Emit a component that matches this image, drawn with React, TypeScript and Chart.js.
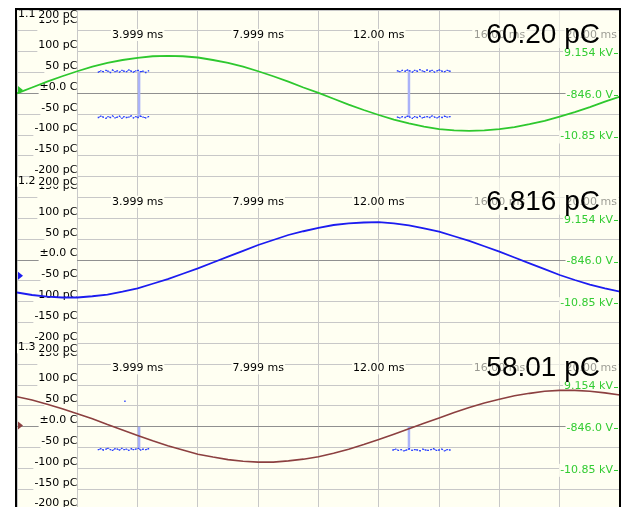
import React, { useEffect, useRef } from "react";
import { Chart, registerables } from "chart.js";

Chart.register(...registerables);

// ---- data ----
const timeMs = [0, 0.5, 1, 1.5, 2, 2.5, 3, 3.5, 4, 4.5, 5, 5.5, 6, 6.5, 7, 7.5, 8, 8.5, 9, 9.5, 10,
  10.5, 11, 11.5, 12, 12.5, 13, 13.5, 14, 14.5, 15, 15.5, 16, 16.5, 17, 17.5, 18, 18.5, 19, 19.5, 20];

const trace1pC = [0, 14, 28, 41, 53, 64, 73, 80, 85, 89, 90, 89, 86, 80, 73, 64, 53, 41, 28, 14, 1,
  -13, -27, -40, -52, -63, -72, -80, -86, -89, -90, -89, -86, -81, -74, -66, -56, -45, -33, -20, -8];
const trace2pC = [-78, -84, -88, -90, -90, -87, -83, -76, -68, -57, -46, -33, -20, -6, 8, 22, 36, 48, 60, 69, 77,
  84, 88, 90, 91, 88, 83, 76, 68, 57, 46, 33, 20, 6, -8, -22, -36, -48, -59, -68, -76];
const trace3pC = [72, 64, 54, 43, 31, 19, 5, -8, -21, -34, -46, -56, -66, -73, -79, -83, -85, -85, -82, -78, -72,
  -64, -54, -43, -31, -18, -5, 8, 21, 34, 46, 57, 66, 74, 80, 85, 87, 87, 85, 81, 76];

const panelIds = ["1.1", "1.2", "1.3"];
const readouts = ["60.20 pC", "6.816 pC", "58.01 pC"];
const markerLevels = [8, -38, 3];

const yTickValues = [200, 150, 100, 50, 0, -50, -100, -150, -200];
const yTickLabels = ["200 pC", "150 pC", "100 pC", "50 pC", "±0.0 C", "-50 pC", "-100 pC", "-150 pC", "-200 pC"];
const timeTickValues = [4, 8, 12, 16, 20];
const timeTickLabels = ["3.999 ms", "7.999 ms", "12.00 ms", "16.00 ms", "20.00 ms"];
const voltTickValues = [100, 0, -100];
const voltTickLabels = ["9.154 kV", "-846.0 V", "-10.85 kV"];

// noise bursts (panel 1.1)
const burstA_t = [2.70, 2.78, 2.86, 2.95, 3.02, 3.10, 3.17, 3.25, 3.33, 3.40, 3.48, 3.55, 3.63, 3.71, 3.79, 3.86, 3.94, 4.02, 4.10, 4.18, 4.27, 4.36];
const burstA_up = [51, 54, 52, 55, 53, 50, 56, 52, 54, 51, 55, 53, 52, 56, 53, 51, 54, 55, 52, 53, 50, 54];
const burstA_low = [-58, -55, -57, -60, -56, -58, -54, -59, -57, -55, -60, -56, -58, -57, -54, -59, -56, -58, -55, -57, -59, -56];
const burstB_t = [12.62, 12.70, 12.78, 12.87, 12.95, 13.03, 13.11, 13.19, 13.28, 13.36, 13.44, 13.52, 13.60, 13.69, 13.77, 13.85, 13.93, 14.01, 14.10, 14.18, 14.27, 14.36];
const burstB_up = [54, 52, 55, 53, 56, 54, 51, 55, 53, 57, 54, 52, 56, 53, 55, 51, 54, 56, 53, 52, 55, 53];
const burstB_low = [-57, -59, -56, -58, -55, -57, -60, -56, -58, -55, -59, -57, -56, -58, -54, -57, -59, -56, -58, -55, -57, -56];
const spike1_t = [4.05, 13.0];
const spike1_top = [53, 54];
const spike1_bottom = [-57, -57];

// noise bursts (panel 1.3)
const burstC_low = [-55, -53, -56, -54, -52, -55, -57, -53, -54, -56, -52, -55, -54, -57, -53, -55, -54, -52, -56, -54, -55, -53];
const burstD_t = [12.47, 12.56, 12.65, 12.74, 12.83, 12.92, 13.01, 13.10, 13.19, 13.28, 13.37, 13.46, 13.55, 13.64, 13.73, 13.82, 13.91, 14.00, 14.09, 14.18, 14.27, 14.36];
const burstD_low = [-56, -54, -57, -55, -58, -56, -53, -57, -55, -56, -58, -54, -56, -57, -55, -53, -57, -56, -54, -58, -55, -56];
const stray_t = [3.58];
const stray_v = [61];
const spike3_t = [4.05, 13.0];
const spike3_top = [0, 0];
const spike3_bottom = [-54, -56];

// ---- styles ----
const CREAM = "#fffff2";
const GRID = "#c8c8c8";
const ZERO = "#909090";
const GREEN = "#2ec82e";
const BLUE = "#1c1cf0";
const BROWN = "#8c4040";
const NOISE = "#2a40ff";
const SPIKE = "#aab2f8";
const VOLT = "#33cc33";
const SMALL_FONT = "11px 'DejaVu Sans', sans-serif";
const BIG_FONT = "28px 'Liberation Sans', Arial, sans-serif";
const traceColors = [GREEN, BLUE, BROWN];
const scaleIds = ["y1", "y2", "y3"];

const pts = (ts: number[], vs: number[]) => ts.map((t, i) => ({ x: t, y: vs[i] }));

const noiseDs = (ts: number[], vs: number[], axis: string) => ({
  data: pts(ts, vs),
  yAxisID: axis,
  borderColor: NOISE,
  backgroundColor: NOISE,
  borderWidth: 1,
  borderDash: [2, 2],
  pointRadius: 1,
  pointStyle: "rect",
  pointBorderWidth: 0,
  tension: 0,
});

const spikeDs = (t: number, a: number, b: number, axis: string) => ({
  data: [{ x: t, y: a }, { x: t, y: b }],
  yAxisID: axis,
  borderColor: SPIKE,
  borderWidth: 2.5,
  pointRadius: 0,
});

const decorPlugin = {
  id: "scopeDecor",
  beforeDraw(chart: any) {
    const { ctx, chartArea: a } = chart;
    ctx.save();
    ctx.fillStyle = CREAM;
    ctx.fillRect(a.left, a.top, a.right - a.left, a.bottom - a.top);
    ctx.restore();
  },
  beforeDatasetsDraw(chart: any) {
    const ctx = chart.ctx;
    const xs = chart.scales.x;
    ctx.save();
    scaleIds.forEach((id, p) => {
      const s = chart.scales[id];
      ctx.font = SMALL_FONT;
      ctx.textBaseline = "middle";
      // left value labels (all but the top one)
      ctx.textAlign = "right";
      yTickValues.forEach((v, i) => {
        if (v === 200) return;
        const py = s.getPixelForValue(v);
        const cy = v === 150 ? py - 11 : py - 6.5;
        const w = ctx.measureText(yTickLabels[i]).width;
        const left = 77.5 - w;
        ctx.fillStyle = CREAM;
        ctx.fillRect(left - 1, cy - 6, 77 - (left - 1), py + 1 - (cy - 6));
        ctx.fillStyle = "#000";
        ctx.fillText(yTickLabels[i], 77.5, cy);
      });
      // top label with panel id
      {
        const i = yTickValues.indexOf(200);
        const cy = s.top + 5.5;
        ctx.fillStyle = CREAM;
        ctx.fillRect(17, cy - 5, 60, 9.5);
        ctx.fillStyle = "#000";
        ctx.fillText(yTickLabels[i], 77.5, cy);
        ctx.textAlign = "left";
        ctx.fillText(panelIds[p], 18, cy - 1.5);
      }
      // right-hand voltage labels
      ctx.textAlign = "right";
      voltTickValues.forEach((v, i) => {
        const py = s.getPixelForValue(v);
        const cy = py + 1.5;
        const w = ctx.measureText(voltTickLabels[i]).width;
        ctx.fillStyle = CREAM;
        ctx.fillRect(613 - w - 1, Math.min(cy - 6, py - 1), w + 7, 13);
        ctx.fillStyle = VOLT;
        ctx.fillText(voltTickLabels[i], 613, cy);
        ctx.fillRect(614, Math.round(cy), 4, 1);
      });
      // time labels
      ctx.textAlign = "left";
      const ty = s.top + 25;
      timeTickValues.forEach((t, i) => {
        const x = xs.getPixelForValue(t);
        const w = ctx.measureText(timeTickLabels[i]).width;
        let left = x - w / 2;
        if (left + w > 617) left = 617 - w;
        ctx.fillStyle = CREAM;
        ctx.fillRect(left - 1, ty - 6, w + 2, 12);
        ctx.fillStyle = "#000";
        ctx.fillText(timeTickLabels[i], left, ty);
      });
      // readout box + big value
      ctx.fillStyle = "rgba(255,255,242,0.6)";
      ctx.fillRect(472, s.top + 1, 147, 37);
      ctx.font = BIG_FONT;
      ctx.textAlign = "right";
      ctx.textBaseline = "alphabetic";
      ctx.fillStyle = "#000";
      ctx.fillText(readouts[p], 600, s.top + 33);
    });
    ctx.restore();
  },
  afterDatasetsDraw(chart: any) {
    const ctx = chart.ctx;
    ctx.save();
    scaleIds.forEach((id, p) => {
      const s = chart.scales[id];
      const y = s.getPixelForValue(markerLevels[p]);
      ctx.fillStyle = traceColors[p];
      ctx.beginPath();
      ctx.moveTo(18, y - 4);
      ctx.lineTo(23, y);
      ctx.lineTo(18, y + 4);
      ctx.closePath();
      ctx.fill();
    });
    ctx.fillStyle = "#000";
    ctx.fillRect(15, 8, 2, 520);
    ctx.fillRect(15, 8, 606, 2);
    ctx.fillRect(619, 8, 2, 520);
    ctx.restore();
  },
};

const yScale = (weight: number) => ({
  type: "linear",
  position: "left",
  stack: "panels",
  stackWeight: 1,
  weight,
  min: -200,
  max: 200,
  ticks: { display: false, stepSize: 50 },
  grid: {
    drawTicks: false,
    color: (c: any) => (c.tick && c.tick.value === 0 ? ZERO : GRID),
    lineWidth: 1,
  },
  border: { display: false },
});

export default function App() {
  const ref = useRef<HTMLCanvasElement>(null);
  useEffect(() => {
    document.documentElement.style.overflow = "hidden";
    document.body.style.overflow = "hidden";
    const canvas = ref.current;
    if (!canvas) return;
    const chart = new Chart(canvas, {
      type: "line",
      data: {
        datasets: [
          { label: panelIds[0], data: pts(timeMs, trace1pC), yAxisID: "y1", borderColor: GREEN, borderWidth: 1.8, pointRadius: 0, tension: 0 },
          { label: panelIds[1], data: pts(timeMs, trace2pC), yAxisID: "y2", borderColor: BLUE, borderWidth: 1.8, pointRadius: 0, tension: 0 },
          { label: panelIds[2], data: pts(timeMs, trace3pC), yAxisID: "y3", borderColor: BROWN, borderWidth: 1.6, pointRadius: 0, tension: 0 },
          noiseDs(burstA_t, burstA_up, "y1"),
          noiseDs(burstA_t, burstA_low, "y1"),
          noiseDs(burstB_t, burstB_up, "y1"),
          noiseDs(burstB_t, burstB_low, "y1"),
          noiseDs(burstA_t, burstC_low, "y3"),
          noiseDs(burstD_t, burstD_low, "y3"),
          { ...noiseDs(stray_t, stray_v, "y3"), showLine: false },
          spikeDs(spike1_t[0], spike1_top[0], spike1_bottom[0], "y1"),
          spikeDs(spike1_t[1], spike1_top[1], spike1_bottom[1], "y1"),
          spikeDs(spike3_t[0], spike3_top[0], spike3_bottom[0], "y3"),
          spikeDs(spike3_t[1], spike3_top[1], spike3_bottom[1], "y3"),
        ] as any,
      },
      options: {
        responsive: false,
        maintainAspectRatio: false,
        animation: false,
        devicePixelRatio: 1,
        layout: { padding: { left: 17, right: 3, top: 10, bottom: 1.5 } },
        plugins: { legend: { display: false }, tooltip: { enabled: false } },
        scales: {
          x: {
            type: "linear",
            position: "bottom",
            min: 0,
            max: 20,
            ticks: { display: false, stepSize: 2 },
            grid: { drawTicks: false, color: GRID, lineWidth: 1 },
            border: { display: false },
          },
          y1: yScale(3),
          y2: yScale(2),
          y3: yScale(1),
        } as any,
      },
      plugins: [decorPlugin],
    });
    return () => chart.destroy();
  }, []);
  return (
    <div style={{ position: "fixed", left: 0, top: 0, width: 624, height: 514 }}>
      <canvas ref={ref} width={624} height={514} style={{ display: "block", width: 624, height: 514 }} />
    </div>
  );
}
